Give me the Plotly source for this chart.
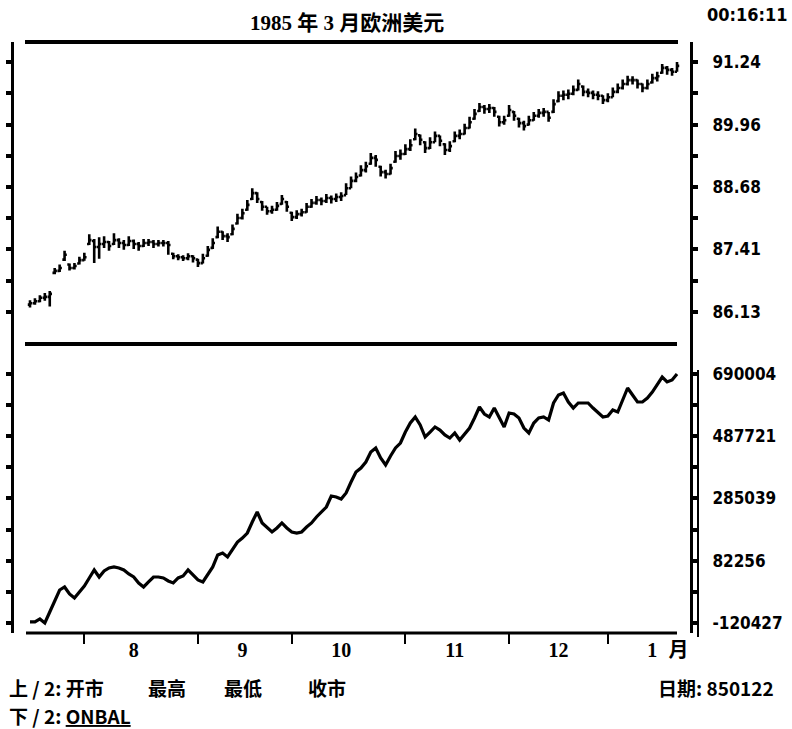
import pandas as pd
import plotly.graph_objects as go

# ---------------- data ----------------
holidays = ["1984-09-03", "1984-11-22", "1984-12-25", "1985-01-01"]
trade_dates = [d for d in pd.bdate_range("1984-07-17", "1985-01-22")
               if d.strftime("%Y-%m-%d") not in holidays]

opens = [86.28, 86.31, 86.35, 86.42, 86.44, 86.93, 86.97, 87.20, 87.10, 87.03,
         87.12, 87.19, 87.52, 87.58, 87.46, 87.52, 87.56, 87.52, 87.60, 87.54,
         87.50, 87.58, 87.52, 87.48, 87.54, 87.56, 87.52, 87.54, 87.54, 87.32,
         87.27, 87.25, 87.23, 87.27, 87.20, 87.13, 87.28, 87.44, 87.66, 87.77,
         87.68, 87.72, 87.94, 88.05, 88.22, 88.44, 88.56, 88.38, 88.28, 88.19,
         88.22, 88.34, 88.38, 88.16, 88.07, 88.13, 88.17, 88.28, 88.36, 88.42,
         88.40, 88.46, 88.44, 88.48, 88.52, 88.66, 88.81, 88.92, 89.03, 89.16,
         89.28, 89.10, 88.99, 88.95, 89.20, 89.32, 89.36, 89.46, 89.66, 89.74,
         89.60, 89.48, 89.60, 89.73, 89.56, 89.44, 89.62, 89.73, 89.77, 89.89,
         90.08, 90.24, 90.32, 90.28, 90.30, 90.12, 90.01, 90.14, 90.22, 90.08,
         89.99, 89.96, 90.05, 90.14, 90.20, 90.22, 90.22, 90.44, 90.55, 90.57,
         90.59, 90.67, 90.74, 90.63, 90.61, 90.57, 90.55, 90.46, 90.52, 90.63,
         90.71, 90.79, 90.87, 90.87, 90.79, 90.71, 90.82, 90.91, 91.02, 91.12,
         91.08, 91.04]

highs = [86.37, 86.41, 86.47, 86.52, 86.56, 87.03, 87.10, 87.38, 87.12, 87.13,
         87.26, 87.34, 87.72, 87.62, 87.66, 87.68, 87.58, 87.74, 87.64, 87.60,
         87.68, 87.61, 87.56, 87.62, 87.62, 87.60, 87.60, 87.60, 87.58, 87.34,
         87.31, 87.29, 87.33, 87.29, 87.22, 87.32, 87.48, 87.64, 87.88, 87.78,
         87.74, 87.92, 88.14, 88.24, 88.42, 88.66, 88.58, 88.40, 88.28, 88.30,
         88.38, 88.52, 88.40, 88.18, 88.21, 88.24, 88.36, 88.44, 88.50, 88.47,
         88.54, 88.51, 88.55, 88.58, 88.76, 88.90, 88.98, 89.13, 89.20, 89.38,
         89.34, 89.12, 89.04, 89.16, 89.42, 89.45, 89.56, 89.66, 89.88, 89.76,
         89.62, 89.70, 89.82, 89.74, 89.58, 89.62, 89.82, 89.86, 89.98, 90.12,
         90.28, 90.40, 90.36, 90.38, 90.32, 90.14, 90.14, 90.36, 90.24, 90.10,
         90.04, 90.14, 90.22, 90.28, 90.30, 90.22, 90.48, 90.64, 90.66, 90.68,
         90.76, 90.88, 90.76, 90.70, 90.66, 90.64, 90.56, 90.60, 90.72, 90.80,
         90.88, 90.96, 90.95, 90.88, 90.80, 90.88, 91.00, 91.04, 91.20, 91.16,
         91.12, 91.24]

lows = [86.22, 86.28, 86.33, 86.36, 86.24, 86.90, 86.95, 87.17, 86.98, 87.00,
        87.10, 87.18, 87.50, 87.13, 87.22, 87.44, 87.38, 87.50, 87.44, 87.40,
        87.48, 87.42, 87.38, 87.46, 87.48, 87.44, 87.47, 87.47, 87.30, 87.21,
        87.19, 87.17, 87.19, 87.14, 87.05, 87.12, 87.26, 87.42, 87.64, 87.60,
        87.56, 87.70, 87.92, 88.02, 88.20, 88.42, 88.36, 88.20, 88.12, 88.14,
        88.20, 88.32, 88.18, 87.99, 88.03, 88.08, 88.16, 88.26, 88.32, 88.31,
        88.36, 88.35, 88.38, 88.40, 88.52, 88.66, 88.78, 88.90, 88.98, 89.14,
        89.10, 88.90, 88.86, 88.94, 89.18, 89.24, 89.34, 89.42, 89.64, 89.54,
        89.38, 89.46, 89.60, 89.52, 89.34, 89.40, 89.60, 89.66, 89.76, 89.88,
        90.06, 90.22, 90.18, 90.20, 90.12, 89.92, 89.96, 90.12, 90.04, 89.90,
        89.84, 89.94, 90.04, 90.10, 90.12, 90.02, 90.20, 90.42, 90.46, 90.48,
        90.56, 90.66, 90.54, 90.52, 90.48, 90.46, 90.38, 90.42, 90.52, 90.60,
        90.68, 90.76, 90.78, 90.70, 90.62, 90.68, 90.80, 90.84, 91.00, 90.98,
        90.96, 91.04]

closes = [86.31, 86.35, 86.42, 86.44, 86.50, 86.97, 87.03, 87.30, 87.03, 87.07,
          87.19, 87.25, 87.60, 87.46, 87.52, 87.56, 87.48, 87.60, 87.54, 87.50,
          87.58, 87.52, 87.48, 87.54, 87.56, 87.52, 87.54, 87.54, 87.50, 87.27,
          87.25, 87.23, 87.27, 87.23, 87.13, 87.23, 87.40, 87.54, 87.77, 87.68,
          87.66, 87.83, 88.05, 88.15, 88.32, 88.56, 88.44, 88.28, 88.19, 88.22,
          88.30, 88.44, 88.28, 88.07, 88.13, 88.17, 88.28, 88.36, 88.42, 88.40,
          88.46, 88.44, 88.48, 88.50, 88.66, 88.81, 88.89, 89.03, 89.11, 89.28,
          89.24, 88.99, 88.95, 89.07, 89.32, 89.36, 89.46, 89.54, 89.77, 89.65,
          89.48, 89.60, 89.73, 89.63, 89.44, 89.52, 89.73, 89.77, 89.89, 90.01,
          90.18, 90.32, 90.28, 90.30, 90.22, 90.01, 90.05, 90.26, 90.14, 89.99,
          89.93, 90.05, 90.14, 90.20, 90.22, 90.10, 90.38, 90.55, 90.57, 90.59,
          90.67, 90.79, 90.63, 90.61, 90.57, 90.55, 90.46, 90.52, 90.63, 90.71,
          90.79, 90.87, 90.87, 90.79, 90.71, 90.79, 90.91, 90.95, 91.12, 91.08,
          91.04, 91.16]

obv = [-117000, -117000, -107400, -120427, -84600, -45600, -13000, -3200, -26000, -39000,
       -19500, 100, 26100, 52100, 29300, 48900, 58600, 61900, 58600, 52100,
       39100, 29300, 9800, -3200, 13100, 29300, 29300, 26100, 16300, 9800,
       26100, 32600, 52100, 35800, 19600, 13100, 35800, 61900, 100900, 107400,
       94400, 120400, 143200, 156200, 172500, 208300, 240900, 205100, 188800, 175800,
       188800, 205100, 188800, 175800, 172500, 175800, 192000, 205100, 224600, 240900,
       257100, 292900, 289700, 283200, 302700, 338500, 371000, 384100, 403600, 436100,
       449200, 416600, 393800, 423100, 449200, 465400, 501200, 530500, 550100, 524000,
       485000, 501200, 517500, 507700, 491500, 481700, 498000, 475200, 494700, 514200,
       546800, 582600, 559800, 550100, 579300, 546800, 517500, 563100, 559800, 546800,
       514200, 498000, 530500, 546800, 550100, 540300, 595600, 621700, 628200, 598900,
       579300, 595600, 595600, 595600, 579300, 563100, 550100, 553300, 572800, 566300,
       605400, 644400, 621700, 598900, 598900, 611900, 631400, 654200, 680200, 664000,
       670500, 690004]

price_ticks = [91.24, 90.60, 89.96, 89.32, 88.68, 88.045, 87.41, 86.77, 86.13]
price_labels = ["91.24", "", "89.96", "", "88.68", "", "87.41", "", "86.13"]
obv_ticks = [690004, 588862, 487721, 386380, 285039, 183647, 82256, -19086, -120427]
obv_labels = ["690004", "", "487721", "", "285039", "", "82256", "", "-120427"]
month_labels = ["8", "9", "10", "11", "12", "1"]
unit_label = "月"

assert len(trade_dates) == len(closes) == len(obv) == len(opens) == len(highs) == len(lows)

idx = list(range(len(trade_dates)))
month_starts = [i for i in idx[1:] if trade_dates[i].month != trade_dates[i - 1].month]
label_pos = []
for s in month_starts:
    m = trade_dates[s].month
    label_pos.append(next(i for i in idx[s:] if trade_dates[i].month == m and trade_dates[i].day >= 15))
label_pos.append(idx[-1] + 0.3)

# ---------------- layout helpers (pixels -> paper) ----------------
W, H = 792, 729
PL, PR, PT, PB = 14, 690, 42, 633
def px(x):
    return (x - PL) / (PR - PL)
def py(y):
    return (PB - y) / (PB - PT)

SPLIT = py(344)
x_range = [-3.24, 133.63]

NARROW = "Liberation Sans Narrow, Noto Sans ExtraCondensed, Noto Sans Condensed, DejaVu Sans Condensed, sans-serif"
SERIF = "Liberation Serif, Noto Sans CJK SC, serif"
CJK = "Noto Sans CJK SC, sans-serif"

fig = go.Figure()
fig.add_trace(go.Ohlc(
    x=idx, open=opens, high=highs, low=lows, close=closes,
    xaxis="x", yaxis="y",
    increasing=dict(line=dict(color="black", width=2.6)),
    decreasing=dict(line=dict(color="black", width=2.6)),
    tickwidth=0.45, showlegend=False, hoverinfo="skip"))
fig.add_trace(go.Scatter(
    x=idx, y=obv, mode="lines", xaxis="x", yaxis="y2",
    line=dict(color="black", width=3.2), showlegend=False, hoverinfo="skip"))

yfont = dict(family=NARROW, size=17, color="black", weight="bold")
common_y = dict(anchor="x", side="right", showline=True, linecolor="black", linewidth=3,
                mirror="ticks", ticks="outside", ticklen=5, tickwidth=4, tickcolor="black",
                tickmode="array", showgrid=False, zeroline=False, tickfont=yfont,
                ticklabelstandoff=11, automargin=False)

fig.update_layout(
    width=W, height=H,
    margin=dict(l=PL, r=W - PR, t=PT, b=H - PB, autoexpand=False),
    paper_bgcolor="white", plot_bgcolor="white",
    showlegend=False,
    xaxis=dict(domain=[0, 1], anchor="y2", range=x_range, automargin=False,
               rangeslider=dict(visible=False),
               showgrid=False, zeroline=False, showline=False,
               tickmode="array", tickvals=label_pos, ticktext=month_labels + [unit_label],
               ticks="", ticklabelstandoff=3,
               tickfont=dict(family=SERIF, size=20, color="black", weight="bold"),
               minor=dict(tickmode="array", tickvals=month_starts, ticks="outside",
                          ticklen=10, tickwidth=2, tickcolor="black", showgrid=False)),
    xaxis2=dict(overlaying="x", anchor="y2", range=x_range, showgrid=False, zeroline=False,
                automargin=False, showline=False, tickmode="array", tickvals=month_starts,
                ticks="inside", ticklen=10, tickwidth=2, tickcolor="black", showticklabels=False),
    yaxis=dict(domain=[SPLIT, 1], range=[85.476, 91.649],
               tickvals=price_ticks, ticktext=price_labels, **common_y),
    yaxis2=dict(domain=[0, SPLIT], range=[-152974, 787645],
                tickvals=obv_ticks, ticktext=obv_labels, **common_y),
)

# frame decorations
fig.add_shape(type="line", xref="paper", yref="paper", x0=px(25), x1=px(678), y0=py(42), y1=py(42),
              line=dict(color="black", width=4))
fig.add_shape(type="line", xref="paper", yref="paper", x0=px(25), x1=px(677), y0=py(344), y1=py(344),
              line=dict(color="black", width=4))
fig.add_shape(type="line", xref="paper", yref="paper", x0=px(26), x1=px(677), y0=py(633), y1=py(633),
              line=dict(color="black", width=3))
fig.add_shape(type="line", xref="paper", yref="paper", x0=px(698), x1=px(698), y0=py(370), y1=py(637),
              line=dict(color="black", width=2))

def note(text, x, y, font, xanchor="left"):
    fig.add_annotation(text=text, x=px(x), y=py(y), xref="paper", yref="paper",
                       xanchor=xanchor, yanchor="middle", showarrow=False, font=font)

title_font = dict(family=SERIF, size=21, color="black", weight="bold")
cjk_font = dict(family=CJK, size=19, color="black", weight="bold")
note("1985 年 3 月欧洲美元", 347, 23, title_font, "center")
note("00:16:11", 747, 15, dict(family=NARROW, size=18, color="black", weight="bold"), "center")
note("上 / 2: 开市", 7, 687, cjk_font)
note("最高", 146, 687, cjk_font)
note("最低", 222, 687, cjk_font)
note("收市", 306, 687, cjk_font)
note("日期: 850122", 776, 687, cjk_font, "right")
note("下 / 2: <u>ONBAL</u>", 7, 715, cjk_font)

fig.write_html("out.html")
